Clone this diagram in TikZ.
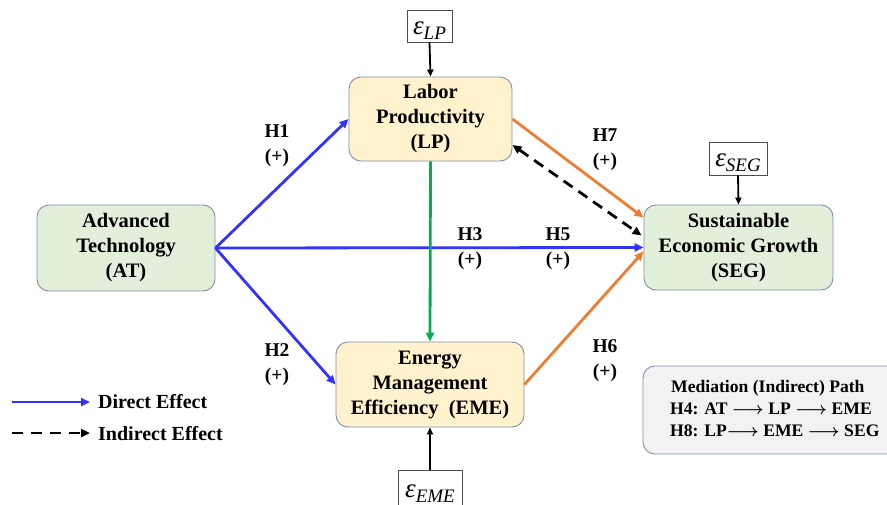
\documentclass[tikz,border=0pt]{standalone}
\usepackage{amsmath}
\usepackage{fontspec}
\setmainfont{Liberation Serif}
\usetikzlibrary{arrows.meta}
\definecolor{boxborder}{HTML}{8090A8}
\definecolor{yfill}{HTML}{FFF2CC}
\definecolor{gfill}{HTML}{E2EFDA}
\definecolor{mfill}{HTML}{F2F2F2}
\definecolor{dblue}{HTML}{3333FF}
\definecolor{dgreen}{HTML}{00B050}
\definecolor{dorange}{HTML}{ED7D31}
\newcommand{\errlabel}[1]{{\fontsize{27}{28}\selectfont\itshape ε}\raisebox{-5pt}{\fontsize{19}{19}\selectfont\itshape #1}}
\tikzset{
  varbox/.style={draw=boxborder, line width=0.9pt, rounded corners=12pt, inner sep=0pt, align=center,
    font=\bfseries\fontsize{20.5}{25}\selectfont},
  ybox/.style={varbox, fill=yfill},
  gbox/.style={varbox, fill=gfill},
  errbox/.style={draw=black!70, line width=0.8pt, fill=white, inner sep=0pt, text height=20pt, text depth=4pt},
  tip/.style={-{Triangle[length=9pt,width=8pt]}},
  bluearrow/.style={tip, draw=dblue, line width=2.8pt},
  greenarrow/.style={tip, draw=dgreen, line width=2.8pt},
  orangearrow/.style={tip, draw=dorange, line width=2.8pt},
  dasharrow/.style={{Triangle[length=9pt,width=8pt]}-{Triangle[length=9pt,width=8pt]}, draw=black, line width=2.8pt, dash pattern=on 11pt off 7pt},
  errarrow/.style={-{Triangle[length=7pt,width=6pt]}, draw=black, line width=1.8pt},
  hlabel/.style={align=center, font=\bfseries\fontsize{19.5}{25}\selectfont, inner sep=0pt},
  legtext/.style={anchor=west, font=\bfseries\fontsize{20}{24}\selectfont, inner sep=0pt},
  medtext/.style={anchor=west, font=\bfseries\fontsize{17.6}{22}\selectfont, inner sep=0pt},
}
\begin{document}
\begin{tikzpicture}[x=1pt,y=-1pt]
\useasboundingbox (0,0) rectangle (887,504);

% main nodes
\node[ybox, minimum width=163pt, minimum height=84pt] (LP) at (430.5,119) {Labor\\Productivity\\(LP)};
\node[gbox, minimum width=178pt, minimum height=86pt] (AT) at (126,248) {Advanced\\Technology\\(AT)};
\node[gbox, minimum width=189pt, minimum height=85pt] (SEG) at (738.5,247.5) {Sustainable\\Economic Growth\\(SEG)};
\node[ybox, minimum width=188pt, minimum height=85pt] (EME) at (430,384.5) {Energy\\Management\\Efficiency~~(EME)};

% error terms
\node[errbox, minimum width=45pt, minimum height=32pt] (eLP) at (429.5,26) {\errlabel{LP}};
\node[errbox, minimum width=58pt, minimum height=33pt] (eSEG) at (738,158.5) {\errlabel{SEG}};
\node[errbox, minimum width=64pt, minimum height=44pt, anchor=north] (eEME) at (430,470) {};
\node[inner sep=0pt, anchor=base] (eEMEt) at (430,497) {\errlabel{EME}};

% error arrows
\draw[errarrow] (eLP.south) -- (LP.north);
\draw[errarrow] (eSEG.south) -- (SEG.north);
\draw[errarrow] (eEME.north) -- (EME.south);

% paths
\draw[bluearrow] (AT.east) -- (LP.west);
\draw[bluearrow] (AT.east) -- (EME.west);
\draw[bluearrow] (AT.east) -- (SEG.west);
\draw[greenarrow] (LP.south) -- (EME.north);
\draw[orangearrow] (LP.east) -- ([yshift=30pt]SEG.west);
\draw[orangearrow] (EME.east) -- ([yshift=-4pt]SEG.west);
\draw[dasharrow] ([yshift=-26pt]LP.east) -- ([yshift=12pt,xshift=-2pt]SEG.west);

% hypothesis labels
\node[hlabel] (h1) at (277,146) {H1\\(+)};
\node[hlabel] (h2) at (277,365) {H2\\(+)};
\node[hlabel] (h3) at (470,249) {H3\\(+)};
\node[hlabel] (h5) at (558,249) {H5\\(+)};
\node[hlabel] (h7) at (605,150) {H7\\(+)};
\node[hlabel] (h6) at (605,361) {H6\\(+)};

% legend
\coordinate (l1a) at (12,402);
\coordinate (l1b) at (90,402);
\coordinate (l2a) at (12,433);
\coordinate (l2b) at (90,433);
\draw[bluearrow] (l1a) -- (l1b);
\draw[-{Triangle[length=9pt,width=8pt]}, draw=black, line width=2.8pt, dash pattern=on 11pt off 8pt] (l2a) -- (l2b);
\node[legtext] (lt1) at (98,402) {Direct Effect};
\node[legtext] (lt2) at (98,434) {Indirect Effect};

% mediation box
\draw[draw=boxborder, line width=0.9pt, fill=mfill, rounded corners=12pt] (643,366) rectangle (905,454);
\node[medtext] (m1) at (671,388) {Mediation (Indirect) Path};
\node[medtext] (m2) at (670,409) {H4: AT $\boldsymbol{\longrightarrow}$ LP $\boldsymbol{\longrightarrow}$ EME};
\node[medtext] (m3) at (670,431) {H8: LP$\boldsymbol{\longrightarrow}$ EME $\boldsymbol{\longrightarrow}$ SEG};
\end{tikzpicture}
\end{document}
